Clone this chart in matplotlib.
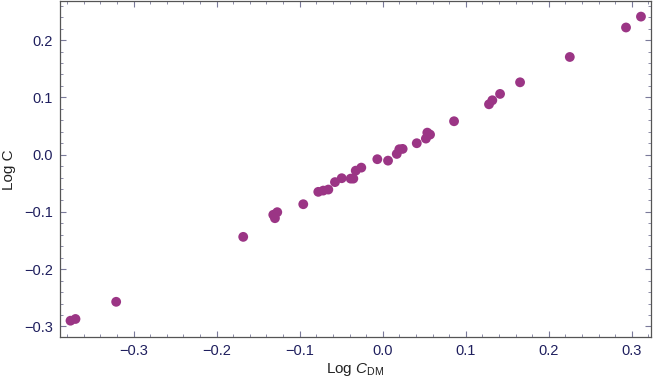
import matplotlib
matplotlib.use("Agg")
import matplotlib.pyplot as plt
from matplotlib.ticker import MultipleLocator, FuncFormatter

plt.rcParams['font.family'] = ['Liberation Sans', 'DejaVu Sans']
plt.rcParams['mathtext.fontset'] = 'custom'
plt.rcParams['mathtext.rm'] = 'Liberation Sans'
plt.rcParams['mathtext.it'] = 'Liberation Sans:italic'

log_cdm = [-0.376, -0.370, -0.321, -0.168, -0.1298, -0.1318, -0.127, -0.0957,
           -0.0776, -0.0716, -0.0655, -0.0575, -0.0494, -0.0386, -0.0354, -0.0325,
           -0.0258, -0.0065, 0.0064, 0.0169, 0.020, 0.024, 0.041, 0.052, 0.0537,
           0.057, 0.0859, 0.128, 0.132, 0.1413, 0.1654, 0.2253, 0.293, 0.311]
log_c = [-0.290, -0.287, -0.257, -0.1436, -0.111, -0.105, -0.1005, -0.0866,
         -0.065, -0.0628, -0.061, -0.048, -0.0412, -0.0419, -0.0419, -0.028,
         -0.0227, -0.008, -0.0105, 0.0012, 0.0094, 0.010, 0.0199, 0.028, 0.0384,
         0.035, 0.0583, 0.0879, 0.0949, 0.106, 0.1263, 0.1705, 0.222, 0.241]

x_label = r"Log $C_{\mathrm{DM}}$"
y_label = "Log C"

fig = plt.figure(figsize=(6.54, 3.82), dpi=100)
ax = fig.add_axes([0.0913, 0.117, 0.904, 0.880])

ax.scatter(log_cdm, log_c, s=50, color='#9b3585', edgecolors='none', zorder=3)

ax.set_xlim(-0.389, 0.323)
ax.set_ylim(-0.319, 0.268)

tick_col = '#1f1f5e'
ax.xaxis.set_major_locator(MultipleLocator(0.1))
ax.xaxis.set_minor_locator(MultipleLocator(0.02))
ax.yaxis.set_major_locator(MultipleLocator(0.1))
ax.yaxis.set_minor_locator(MultipleLocator(0.02))

def fmt(v, pos):
    s = f"{v:.1f}"
    if s == "-0.0":
        s = "0.0"
    return s.replace("-", "\u2212")

ax.xaxis.set_major_formatter(FuncFormatter(fmt))
ax.yaxis.set_major_formatter(FuncFormatter(fmt))

ax.tick_params(which='both', direction='in', top=True, right=True,
               color='#7a7a9a', labelcolor=tick_col, labelsize=10.5)
ax.tick_params(which='major', length=4.5, width=0.8, pad=5)
ax.tick_params(which='minor', length=2.5, width=0.6)

for sp in ax.spines.values():
    sp.set_color('#555555')
    sp.set_linewidth(0.9)

ax.set_xlabel(x_label, fontsize=11, color='#222222', labelpad=2)
ax.set_ylabel(y_label, fontsize=11, color='#222222', labelpad=6)

fig.savefig("out.png", dpi=100)
